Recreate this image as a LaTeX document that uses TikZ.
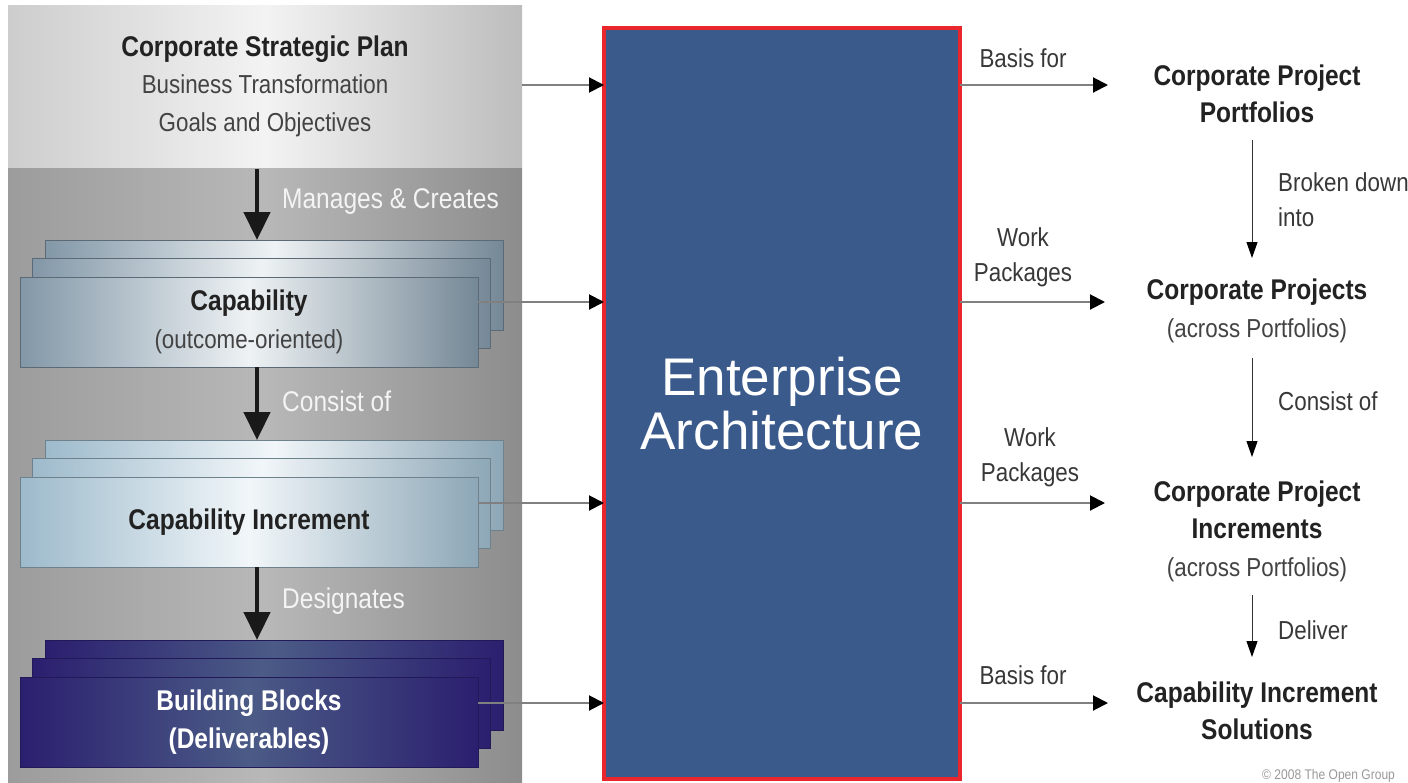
\documentclass[tikz,border=0pt]{standalone}
\usepackage{fontspec}
\setmainfont{Liberation Sans}
\newfontfamily\nf{Liberation Sans}[FakeStretch=0.86]
\usetikzlibrary{arrows.meta,calc}
\definecolor{eablue}{HTML}{3A5A8C}
\definecolor{eared}{HTML}{E8262C}
\definecolor{capedge}{HTML}{8297A7}
\definecolor{capmid}{HTML}{EEF2F4}
\definecolor{ciedge}{HTML}{9DBACB}
\definecolor{cimid}{HTML}{F1F6F9}
\definecolor{bbedge}{HTML}{2B1F6F}
\definecolor{bbmid}{HTML}{4B5B86}
\definecolor{toped}{HTML}{CDCDCD}
\definecolor{topmid}{HTML}{F3F3F3}
\definecolor{lowed}{HTML}{9C9C9C}
\definecolor{lowmid}{HTML}{B8B8B8}
\definecolor{txtdark}{HTML}{222222}
\definecolor{lbl}{HTML}{F4F4F4}
\newcommand\szA{\fontsize{28.5}{37.5}\selectfont}
\newcommand\szB{\fontsize{26}{35}\selectfont}
\newcommand\szC{\fontsize{26}{37.5}\selectfont}
\begin{document}
\begin{tikzpicture}[x=1pt,y=-1pt,
  bigarrow/.style={draw=black!90, line width=4.5pt, -{Triangle[width=26pt,length=28pt]}},
  conn/.style={draw=gray, line width=2pt, -{Triangle[width=15pt,length=15pt,color=black]}},
  varrow/.style={draw=black!80, line width=1pt, -{Triangle[width=11pt,length=16pt,color=black]}},
  stackbox/.style={minimum width=458pt, minimum height=90pt, inner sep=0pt, outer sep=0pt, line width=0.7pt},
  capbox/.style={stackbox, draw=capedge!70!black, left color=capedge, right color=capedge!90!black, middle color=capmid},
  cibox/.style={stackbox, draw=ciedge!70!black, left color=ciedge, right color=ciedge!90!black, middle color=cimid},
  bbbox/.style={stackbox, draw=bbedge!80!black, left color=bbedge, right color=bbedge, middle color=bbmid},
  boxtext/.style={align=center, text=txtdark, font=\nf\szA},
  lefttag/.style={anchor=west, text=lbl, font=\nf\szA, inner sep=0pt},
  rtag/.style={align=center, text=txtdark!90, font=\nf\szB, inner sep=0pt},
  rnode/.style={align=center, text=txtdark, font=\nf\szA, inner sep=0pt},
  vtag/.style={anchor=west, align=left, text=txtdark!90, font=\nf\szB, inner sep=0pt}
]
\useasboundingbox (0,0) rectangle (1408,782);
\fill[white] (0,0) rectangle (1408,782);

% left panels
\node[minimum width=514pt, minimum height=615pt, inner sep=0pt, outer sep=0pt,
      left color=lowed, right color=lowed!90!black, middle color=lowmid] (low) at (265,474.5) {};
\node[minimum width=514pt, minimum height=162pt, inner sep=0pt, outer sep=0pt,
      left color=toped, right color=toped!92!black, middle color=topmid,
      boxtext] (csp) at (265,86) {\bfseries Corporate Strategic Plan\\ \szC\color{txtdark!85}Business Transformation\\ \szC\color{txtdark!85}Goals and Objectives};

% capability stack
\node[capbox] (capB) at (274,285) {};
\node[capbox] (capM) at (261.5,303) {};
\node[capbox, boxtext] (capF) at (249,322) {\bfseries Capability\\ \szC\color{txtdark!85}(outcome-oriented)};

% capability increment stack
\node[cibox] (ciB) at (274,485) {};
\node[cibox] (ciM) at (261.5,503) {};
\node[cibox, boxtext] (ciF) at (249,522) {\bfseries Capability Increment};

% building blocks stack
\node[bbbox] (bbB) at (274,685) {};
\node[bbbox] (bbM) at (261.5,703) {};
\node[bbbox, boxtext, text=white] (bbF) at (249,722) {\bfseries Building Blocks\\ \bfseries (Deliverables)};

% vertical big arrows
\coordinate (a1) at (257,169);
\coordinate (a2) at (257,367);
\coordinate (a3) at (257,567);
\draw[bigarrow] (a1) -- (a1 |- capB.north);
\draw[bigarrow] (a2) -- (a2 |- ciB.north);
\draw[bigarrow] (a3) -- (a3 |- bbB.north);
\node[lefttag] (l1) at (282,202) {Manages \& Creates};
\node[lefttag] (l2) at (282,401) {Consist of};
\node[lefttag] (l3) at (282,601) {Designates};

% Enterprise Architecture
\node[draw=eared, fill=eablue, line width=3.5pt, minimum width=356pt, minimum height=751pt,
      inner sep=0pt, outer sep=0pt, align=center, text=white,
      font=\fontsize{53}{54}\selectfont] (ea) at (782,403.5) {Enterprise\\Architecture};

% connectors into EA
\coordinate (c1) at (522,85);
\coordinate (c2) at ($(capF.east)+(0,-20)$);
\coordinate (c3) at ($(ciF.east)+(0,-19)$);
\coordinate (c4) at ($(bbF.east)+(0,-19)$);
\draw[conn] (c1) -- (c1 -| ea.west);
\draw[conn] (c2) -- (c2 -| ea.west);
\draw[conn] (c3) -- (c3 -| ea.west);
\draw[conn] (c4) -- (c4 -| ea.west);

% right nodes
\node[rnode] (cpp) at (1257,94) {\bfseries Corporate Project\\ \bfseries Portfolios};
\node[rnode] (cp) at (1257,311) {\bfseries Corporate Projects\\ \szC\color{txtdark!85}(across Portfolios)};
\node[rnode] (cpi) at (1257,531) {\bfseries Corporate Project\\ \bfseries Increments\\ \szC\color{txtdark!85}(across Portfolios)};
\node[rnode] (cis) at (1257,711) {\bfseries Capability Increment\\ \bfseries Solutions};

% connectors out of EA
\coordinate (r1) at (1108,85);
\coordinate (r2) at (1105,302);
\coordinate (r3) at (1105,503);
\coordinate (r4) at (1108,703);
\draw[conn] (r1 -| ea.east) -- (r1);
\draw[conn] (r2 -| ea.east) -- (r2);
\draw[conn] (r3 -| ea.east) -- (r3);
\draw[conn] (r4 -| ea.east) -- (r4);
\node[rtag] (t1) at (1023,58) {Basis for};
\node[rtag] (t2) at (1023,257) {Work\\Packages};
\node[rtag] (t3) at (1030,457) {Work\\Packages};
\node[rtag] (t4) at (1023,675) {Basis for};

% right vertical arrows
\coordinate (v1s) at (1252,140);
\coordinate (v1e) at (1252,258);
\coordinate (v2s) at (1252,358);
\coordinate (v2e) at (1252,457);
\coordinate (v3s) at (1252,595);
\coordinate (v3e) at (1252,657);
\draw[varrow] (v1s) -- (v1e);
\draw[varrow] (v2s) -- (v2e);
\draw[varrow] (v3s) -- (v3e);
\node[vtag] (b1) at (1278,200) {Broken down\\into};
\node[vtag] (b2) at (1278,401) {Consist of};
\node[vtag] (b3) at (1278,630) {Deliver};

% copyright
\node[anchor=west, inner sep=0pt, text=gray!80, font=\nf\fontsize{14}{15}\selectfont] (copy) at (1262,776) {\textcopyright\ 2008 The Open Group};
\end{tikzpicture}
\end{document}
